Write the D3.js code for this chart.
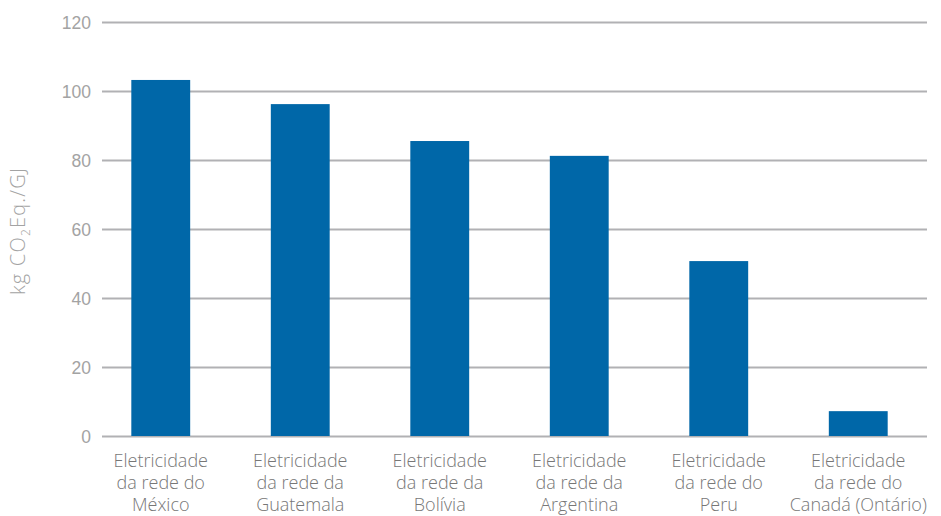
<!DOCTYPE html>
<html>
<head>
<meta charset="utf-8">
<script src="https://cdn.jsdelivr.net/npm/d3@7"></script>
<style>
  body { margin: 0; background: #fff; }
  svg { display: block; font-family: 'Open Sans', Roboto, sans-serif; font-weight: 300; }
</style>
</head>
<body>
<svg id="chart"></svg>
<script>
const categories = [
    ['Eletricidade', 'da rede do', 'México'],
    ['Eletricidade', 'da rede da', 'Guatemala'],
    ['Eletricidade', 'da rede da', 'Bolívia'],
    ['Eletricidade', 'da rede da', 'Argentina'],
    ['Eletricidade', 'da rede do', 'Peru'],
    ['Eletricidade', 'da rede do', 'Canadá (Ontário)']
];
const values = [103.2, 96.2, 85.5, 81.2, 50.7, 7.2];
const yTicks = [0, 20, 40, 60, 80, 100, 120];

const w = 941, h = 516;
const margin = { left: 102, right: 14, top: 22, bottom: 80 };
const barColor = '#0067a8', gridColor = '#b1b1b4', tickColor = '#a3a3a3', labelColor = '#777777';

const chart = d3.select('#chart')
    .attr('width', w)
    .attr('height', h);

const yScale = d3.scaleLinear()
    .domain([0, 120])
    .range([h - margin.bottom, margin.top]);

const xScale = d3.scaleBand()
    .domain(d3.range(categories.length))
    .range([91, 928])
    .paddingInner(0.578)
    .paddingOuter(0.289);

// gridlines + tick labels
const yAxis = chart.append('g')
    .attr('transform', `translate(${margin.left}, 0)`)
    .call(d3.axisRight(yScale).tickValues(yTicks).tickSize(w - margin.left - margin.right).tickFormat(d3.format('d')));

yAxis.select('.domain').remove();
yAxis.selectAll('.tick line')
    .attr('stroke', gridColor)
    .attr('stroke-width', 1.8);
yAxis.selectAll('.tick text')
    .attr('x', -11)
    .attr('dy', '0.36em')
    .attr('text-anchor', 'end')
    .attr('fill', tickColor)
    .attr('font-size', '17.5px');

chart.selectAll('.bar')
    .data(values)
    .enter()
    .append('rect')
    .attr('class', 'bar')
    .attr('x', (d, i) => xScale(i))
    .attr('y', d => yScale(d))
    .attr('width', xScale.bandwidth())
    .attr('height', d => yScale(0) - yScale(d))
    .style('fill', barColor);

// category labels, three lines each
const labels = chart.append('g')
    .attr('fill', labelColor)
    .attr('font-size', '18px')
    .attr('text-anchor', 'middle');

categories.forEach((lines, i) => {
    const t = labels.append('text')
        .attr('x', xScale(i) + xScale.bandwidth() / 2)
        .attr('y', 467);
    lines.forEach((line, j) => {
        t.append('tspan')
            .attr('x', xScale(i) + xScale.bandwidth() / 2)
            .attr('dy', j == 0 ? 0 : 22)
            .text(line);
    });
});

// y axis title with subscript
const title = chart.append('text')
    .attr('transform', `translate(25, 231) rotate(-90)`)
    .attr('text-anchor', 'middle')
    .attr('fill', tickColor)
    .attr('font-size', '20px')
    .attr('letter-spacing', '1.2px');
title.append('tspan').text('kg CO');
title.append('tspan').attr('font-size', '12px').attr('dy', 5).text('2');
title.append('tspan').attr('dy', -5).text('Eq./GJ');
</script>
</body>
</html>
